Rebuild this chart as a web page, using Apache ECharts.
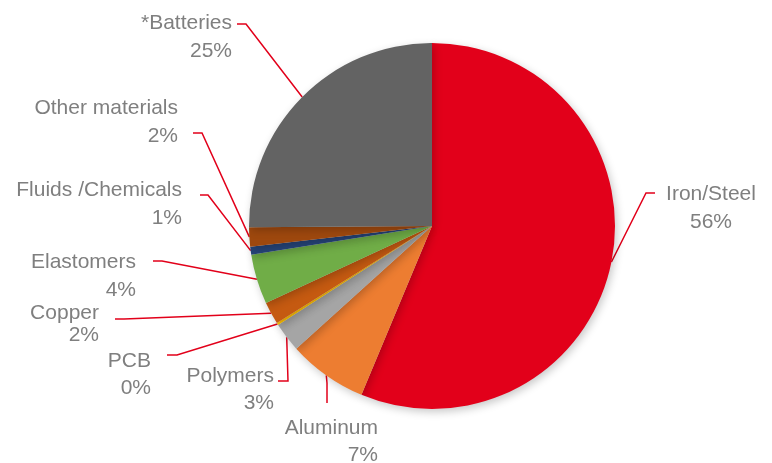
<!DOCTYPE html>
<html>
<head>
<meta charset="utf-8">
<script src="https://cdn.jsdelivr.net/npm/echarts@6/dist/echarts.min.js"></script>
<style>
html,body{margin:0;padding:0;background:#fff;}
#chart{width:772px;height:463px;}
</style>
</head>
<body>
<div id="chart"></div>
<script>
// ---- data ----
const categories = ['Iron/Steel', 'Aluminum', 'Polymers', 'PCB', 'Copper', 'Elastomers', 'Fluids /Chemicals', 'Other materials', '*Batteries'];
const values = [56.3, 7.0, 2.6, 0.2, 2.0, 4.4, 0.7, 1.7, 25.1];

// ---- styles / layout (not data) ----
const colors = ['#E2001A', '#ED7D31', '#A5A5A5', '#FFC000', '#C55A11', '#70AD47', '#264478', '#9E480E', '#636363'];
// label anchor: [align, x, top, lineHeight]
const labelAnchor = [
  ['center', 711, 180, 28],
  ['right', 378, 415, 27],
  ['right', 274, 363, 27],
  ['right', 151, 348, 27],
  ['right', 99, 302, 22],
  ['right', 136, 248, 28],
  ['right', 182, 176, 28],
  ['right', 178, 94, 28],
  ['right', 232, 9, 28]
];
// leader line: [bend point, end point near label]
const leader = [
  [[646, 193], [655, 193]],
  [[327, 383], [327, 403]],
  [[288, 381], [278, 381]],
  [[177, 355], [167, 355]],
  [[124, 319], [115, 319]],
  [[162, 261], [153, 261]],
  [[208, 195], [200, 195]],
  [[202, 133], [193, 133]],
  [[246, 24], [237, 24]]
];

const total = values.reduce((a, b) => a + b, 0);
const data = categories.map((name, i) => ({
  name: name,
  value: values[i],
  itemStyle: { color: colors[i] },
  label: { lineHeight: labelAnchor[i][3], align: labelAnchor[i][0] }
}));

const chart = echarts.init(document.getElementById('chart'), null, { renderer: 'canvas' });
chart.setOption({
  animation: false,
  backgroundColor: '#ffffff',
  series: [{
    type: 'pie',
    center: [432, 226],
    radius: [0, 183],
    startAngle: 90,
    clockwise: true,
    avoidLabelOverlap: false,
    data: data,
    itemStyle: {
      borderWidth: 0,
      shadowBlur: 8,
      shadowOffsetX: 2,
      shadowOffsetY: 3,
      shadowColor: 'rgba(0,0,0,0.22)'
    },
    label: {
      show: true,
      position: 'outside',
      color: '#7f7f7f',
      fontFamily: 'Liberation Sans, Arial, sans-serif',
      fontSize: 21,
      formatter: function (p) {
        return p.name + '\n' + Math.round(p.value / total * 100) + '%';
      }
    },
    labelLine: {
      show: true,
      length: 10,
      length2: 10,
      smooth: false,
      lineStyle: { color: '#E2001A', width: 1.5 }
    },
    labelLayout: function (params) {
      const i = params.dataIndex;
      const a = labelAnchor[i];
      const p0 = params.labelLinePoints ? params.labelLinePoints[0] : leader[i][0];
      return {
        x: a[1],
        y: a[2],
        align: a[0],
        verticalAlign: 'top',
        labelLinePoints: [[p0[0], p0[1]], leader[i][0], leader[i][1]]
      };
    }
  }]
});
</script>
</body>
</html>
